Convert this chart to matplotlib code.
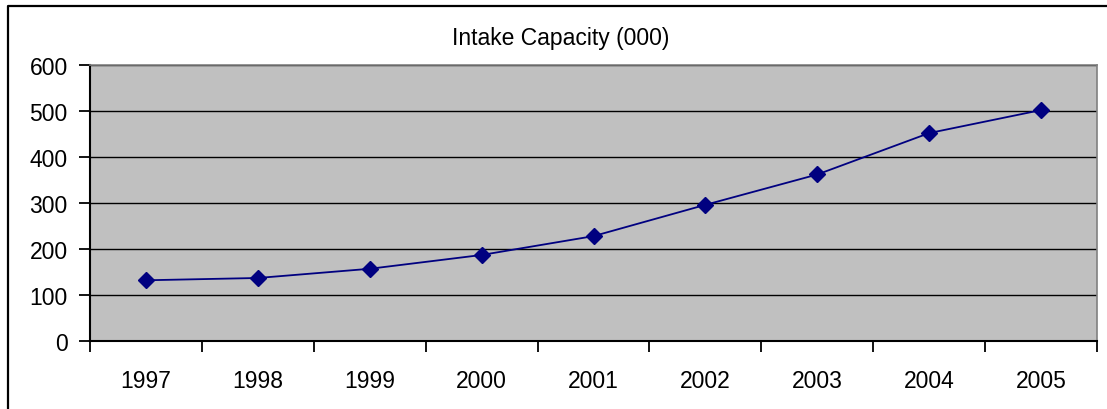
import numpy as np
import matplotlib.pyplot as plt
from matplotlib.lines import Line2D

# Dados
anos = ['1997', '1998', '1999', '2000', '2001', '2002', '2003', '2004', '2005']
capacidade = [132, 137, 157, 187, 228, 296, 362, 452, 502]
y_ticks = [0, 100, 200, 300, 400, 500, 600]

plt.rcParams['font.family'] = ['Liberation Sans', 'DejaVu Sans']

fig = plt.figure(figsize=(11.07, 4.10), dpi=100)
W, H = 1107, 410

# Borda externa (só esquerda e topo aparecem na imagem)
fig.lines.append(Line2D([8 / W, 8 / W, 1.0], [0.0, 1 - 7 / H, 1 - 7 / H],
                        transform=fig.transFigure, color='black', linewidth=1.6))

ax = fig.add_axes([90 / W, (H - 342) / H, (1097 - 90) / W, (342 - 66) / H])
ax.set_facecolor('#C0C0C0')

x = np.arange(len(anos))
ax.plot(x, capacidade, color='#000080', linewidth=1.3, marker='D', markersize=8,
        markerfacecolor='#000080', markeredgecolor='#000080', zorder=3)

ax.set_xlim(-0.5, len(anos) - 0.5)
ax.set_ylim(0, 600)
ax.set_yticks(y_ticks)
ax.set_yticklabels([str(v) for v in y_ticks], fontsize=16.5)
ax.set_xticks(x)
ax.set_xticklabels(anos, fontsize=16.5)
ax.tick_params(axis='x', which='major', length=0, pad=20)
ax.set_xticks(np.arange(-0.5, len(anos)), minor=True)
ax.tick_params(axis='x', which='minor', length=8, width=1.3, direction='out', color='black')
ax.tick_params(axis='y', length=8, width=1.3, direction='out', pad=8)

ax.grid(axis='y', color='black', linewidth=1)
ax.set_axisbelow(True)

for lado in ['top', 'right']:
    ax.spines[lado].set_color('#808080')
    ax.spines[lado].set_linewidth(1.2)
for lado in ['left', 'bottom']:
    ax.spines[lado].set_color('black')
    ax.spines[lado].set_linewidth(1.5)

fig.text(561 / W, 1 - 38 / H, 'Intake Capacity (000)', ha='center', va='center', fontsize=16.5)

fig.savefig('out.png', dpi=100)
